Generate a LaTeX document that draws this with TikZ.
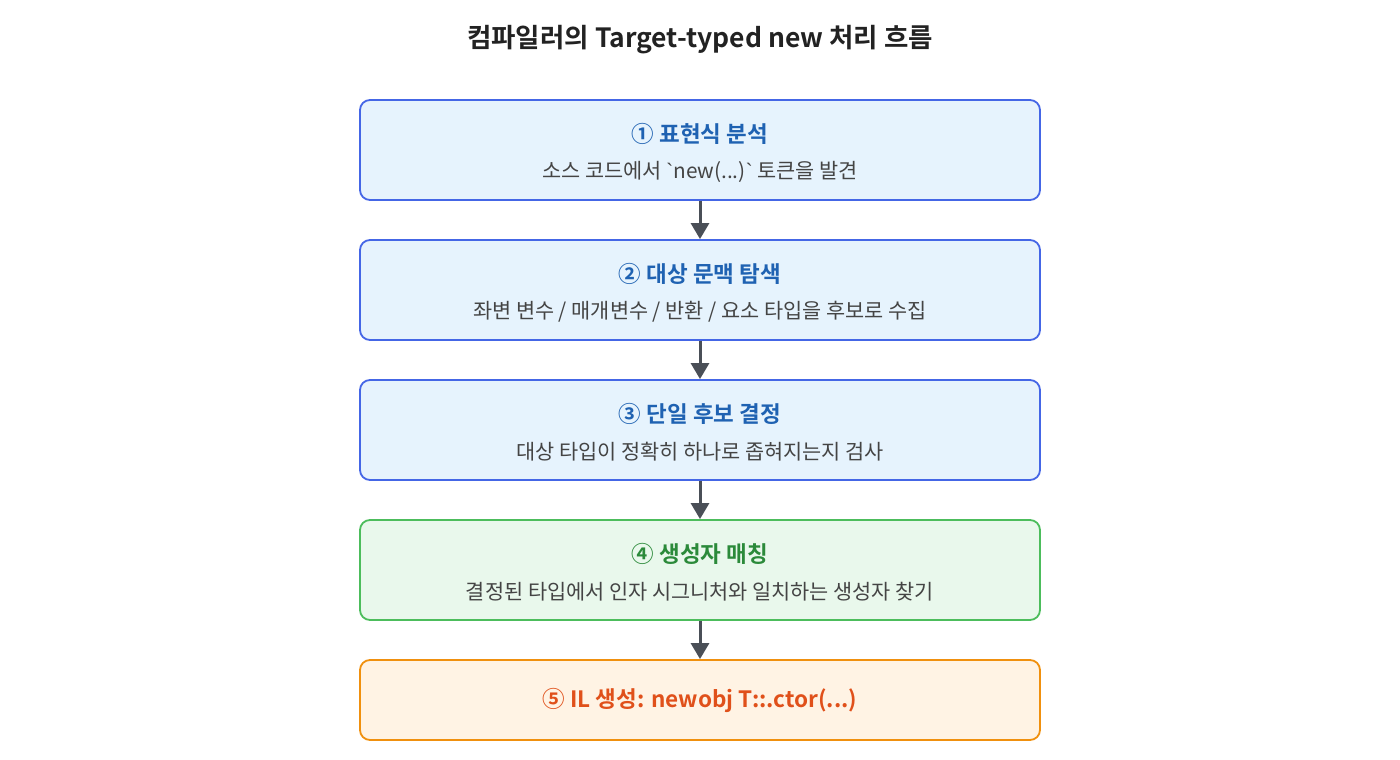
\documentclass[tikz,border=0pt]{standalone}
\usepackage{fontspec}
\setmainfont{Noto Sans CJK KR}[BoldFont={Noto Sans CJK KR Bold}]
\newfontfamily\lplain{Liberation Sans}
\newcommand{\bq}{{\lplain`}}
\usetikzlibrary{arrows.meta}
\definecolor{bBorder}{HTML}{4466E6}
\definecolor{bFill}{HTML}{E6F3FD}
\definecolor{bText}{HTML}{1F62B2}
\definecolor{gBorder}{HTML}{4CBD5C}
\definecolor{gFill}{HTML}{E9F8EC}
\definecolor{gText}{HTML}{2B8A3A}
\definecolor{oBorder}{HTML}{F0900E}
\definecolor{oFill}{HTML}{FFF3E4}
\definecolor{oText}{HTML}{E0501A}
\definecolor{arrowC}{HTML}{4A4F57}
\definecolor{subC}{HTML}{444444}
\definecolor{titleC}{HTML}{222222}
\tikzset{
  stepbox/.style={draw=#1Border, fill=#1Fill, line width=1.8pt, rounded corners=10pt, minimum width=680pt, minimum height=100pt, inner sep=0pt},
  headtxt/.style={font=\fontsize{22.5pt}{26pt}\selectfont\bfseries, text=#1Text, inner sep=0pt},
  subtxt/.style={font=\fontsize{20.8pt}{24pt}\selectfont, text=subC, inner sep=0pt},
  flow/.style={draw=arrowC, line width=3pt, -{Triangle[length=16pt,width=18pt]}, shorten >=0pt}
}
\begin{document}
\begin{tikzpicture}[x=1pt,y=-1pt]
\useasboundingbox (0,0) rectangle (1400,760);
\node[font=\fontsize{26.5pt}{30pt}\selectfont\bfseries, text=titleC] (title) at (700,40) {컴파일러의 Target-typed new 처리 흐름};

\node[stepbox=b] (s1) at (700,150) {};
\node[headtxt=b] (h1) at (700,134) {① 표현식 분석};
\node[subtxt] (t1) at (700,172) {소스 코드에서 \bq new(...)\bq{} 토큰을 발견};

\node[stepbox=b] (s2) at (700,290) {};
\node[headtxt=b] (h2) at (700,274) {② 대상 문맥 탐색};
\node[subtxt] (t2) at (700,312) {좌변 변수 / 매개변수 / 반환 / 요소 타입을 후보로 수집};

\node[stepbox=b] (s3) at (700,430) {};
\node[headtxt=b] (h3) at (700,414) {③ 단일 후보 결정};
\node[subtxt] (t3) at (700,452) {대상 타입이 정확히 하나로 좁혀지는지 검사};

\node[stepbox=g] (s4) at (700,570) {};
\node[headtxt=g] (h4) at (700,554) {④ 생성자 매칭};
\node[subtxt] (t4) at (700,592) {결정된 타입에서 인자 시그니처와 일치하는 생성자 찾기};

\node[stepbox=o, minimum height=80pt] (s5) at (700,700) {};
\node[headtxt=o] (h5) at (700,700) {⑤ IL 생성: newobj T::.ctor(...)};

\draw[flow] (s1.south) -- (s2.north);
\draw[flow] (s2.south) -- (s3.north);
\draw[flow] (s3.south) -- (s4.north);
\draw[flow] (s4.south) -- (s5.north);
\end{tikzpicture}
\end{document}
